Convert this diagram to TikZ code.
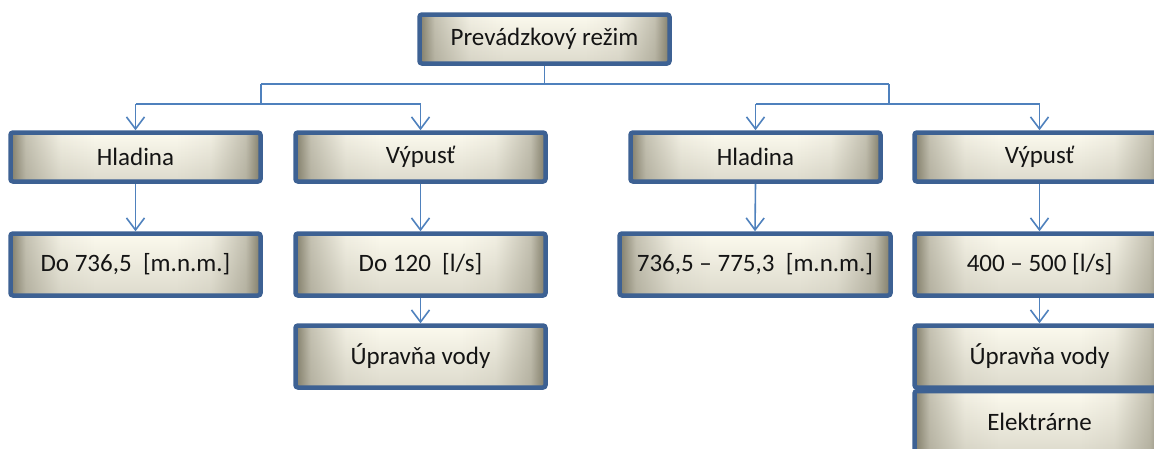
\documentclass[tikz,border=0pt]{standalone}
\usepackage{fontspec}
\setmainfont{Carlito}
\usetikzlibrary{arrows.meta,fadings}
\definecolor{boxline}{HTML}{3D6193}
\definecolor{boxedge}{HTML}{827E6A}
\definecolor{boxmid}{HTML}{FCFAEE}
\definecolor{link}{HTML}{4F81BD}
% light band across the middle of each card, darker towards both sides
\pgfdeclarehorizontalshading{cardband}{100bp}{
  color(0bp)=(boxedge); color(25bp)=(boxedge);
  color(28bp)=(boxmid!55!boxedge); color(35bp)=(boxmid!92!boxedge);
  color(42bp)=(boxmid); color(58bp)=(boxmid);
  color(65bp)=(boxmid!92!boxedge); color(72bp)=(boxmid!55!boxedge);
  color(75bp)=(boxedge); color(100bp)=(boxedge)}
\tikzset{
  card/.style={draw=boxline, line width=4.5pt, rounded corners=2.5pt,
    shading=cardband, shading angle=0,
    path picture={\fill[boxedge, opacity=0.25, path fading=north]
      (path picture bounding box.south west) rectangle
      (path picture bounding box.north east);},
    minimum width=250pt, minimum height=49pt, inner sep=0pt,
    font=\fontsize{25}{30}\selectfont, text=black!92},
  tall/.style={minimum height=62pt},
  wire/.style={draw=link, line width=1.6pt},
  feed/.style={wire, -{Straight Barb[length=12pt,width=18pt,line width=1.6pt]}}
}
\begin{document}
\begin{tikzpicture}[x=1pt,y=-1pt]
\useasboundingbox (0,0) rectangle (1154,448);
\clip (0,0) rectangle (1154,448);

% root
\node[card] (root) at (544.5,39) {Prevádzkový režim};

% first level
\node[card] (h1) at (135.5,157) {Hladina};
\node[card] (v1) at (420.5,157) {Výpusť};
\node[card] (h2) at (755.5,157) {Hladina};
\node[card] (v2) at (1039.5,157) {Výpusť};

% values
\node[card,tall] (h1v) at (135.5,264.5) {Do 736,5\ \ [m.n.m.]};
\node[card,tall] (v1v) at (420.5,264.5) {Do 120\ \ [l/s]};
\node[card,tall,minimum width=271pt] (h2v) at (755,264.5) {736,5 – 775,3\ \ [m.n.m.]};
\node[card,tall] (v2v) at (1039.5,264.5) {400 – 500 [l/s]};

% consumers
\node[card,tall] (u1) at (420.5,356.5) {Úpravňa vody};
\node[card,tall] (u2) at (1039.5,356.5) {Úpravňa vody};
\node[card,tall] (e2) at (1039.5,422) {Elektrárne};

% trunk and branches
\coordinate (busL) at (261,84);
\coordinate (busR) at (889,84);
\coordinate (brL) at (261,104);
\coordinate (brR) at (889,104);
\draw[wire] (root.south) -- (root.south |- busL);
\draw[wire] (busL) -- (busR);
\draw[wire] (busL) -- (brL);
\draw[wire] (busR) -- (brR);
\draw[wire] (h1.north |- brL) -- (v1.north |- brL);
\draw[wire] (h2.north |- brR) -- (v2.north |- brR);
\draw[feed] (h1.north |- brL) -- (h1.north);
\draw[feed] (v1.north |- brL) -- (v1.north);
\draw[feed] (h2.north |- brR) -- (h2.north);
\draw[feed] (v2.north |- brR) -- (v2.north);

% vertical links
\draw[feed] (h1.south) -- (h1v.north);
\draw[feed] (v1.south) -- (v1v.north);
\draw[feed] (h2.south) -- (h2v.north);
\draw[feed] (v2.south) -- (v2v.north);
\draw[feed] (v1v.south) -- (u1.north);
\draw[feed] (v2v.south) -- (u2.north);
\end{tikzpicture}
\end{document}
